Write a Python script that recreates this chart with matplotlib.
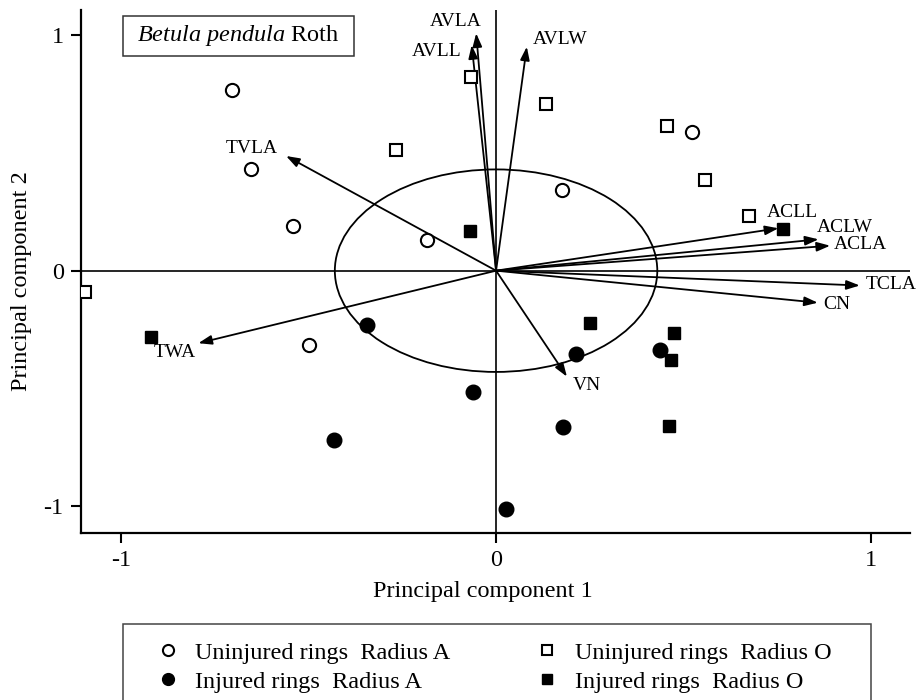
import matplotlib
matplotlib.use("Agg")
import matplotlib.pyplot as plt
from matplotlib.patches import Ellipse, Rectangle
from matplotlib.lines import Line2D

plt.rcParams['font.family'] = ['Liberation Serif', 'DejaVu Serif']
plt.rcParams['axes.unicode_minus'] = False
plt.rcParams['mathtext.fontset'] = 'custom'
plt.rcParams['mathtext.rm'] = 'Liberation Serif'
plt.rcParams['mathtext.it'] = 'Liberation Serif:italic'

# ---------------- data ----------------
unA_x = [-0.704, -0.653, -0.542, -0.184, 0.175, 0.523, -0.500]
unA_y = [0.766, 0.432, 0.190, 0.130, 0.341, 0.588, -0.316]

inA_x = [-0.345, -0.431, -0.062, 0.212, 0.436, 0.179, 0.027]
inA_y = [-0.231, -0.719, -0.514, -0.354, -0.337, -0.665, -1.012]

unO_x = [-1.096, -0.267, -0.068, 0.134, 0.456, 0.556, 0.675]
unO_y = [-0.092, 0.511, 0.822, 0.708, 0.613, 0.385, 0.232]

inO_x = [-0.920, -0.069, 0.764, 0.251, 0.475, 0.466, 0.461]
inO_y = [-0.283, 0.170, 0.178, -0.224, -0.266, -0.379, -0.660]

vec_names = ['AVLA', 'AVLL', 'AVLW', 'TVLA', 'TWA', 'ACLL', 'ACLW', 'ACLA', 'TCLA', 'CN', 'VN']
vec_x = [-0.053, -0.065, 0.082, -0.560, -0.794, 0.753, 0.860, 0.891, 0.970, 0.858, 0.189]
vec_y = [1.008, 0.958, 0.951, 0.487, -0.308, 0.180, 0.133, 0.106, -0.063, -0.136, -0.450]

circle_r = 0.43

x_ticks = [-1, 0, 1]
x_ticklabels = ['-1', '0', '1']
y_ticks = [-1, 0, 1]
y_ticklabels = ['-1', '0', '1']

legend_labels = ['Uninjured rings  Radius A', 'Injured rings  Radius A',
                 'Uninjured rings  Radius O', 'Injured rings  Radius O']

# label offsets (pixels: right, down) relative to arrow tips
lab_off_px = {
    'AVLA': (-20.5, -11.6), 'AVLL': (-35.2, 6.7), 'AVLW': (33.3, -7.4),
    'TVLA': (-34.5, -7.0), 'TWA': (-23.3, 9.4), 'ACLL': (14.2, -15.6),
    'ACLW': (26.7, -11.6), 'ACLA': (30.0, -1.4), 'TCLA': (31.0, -1.0),
    'CN': (18.7, 1.6), 'VN': (20.2, 9.3),
}

# ---------------- figure ----------------
W, H = 918, 700
fig = plt.figure(figsize=(W / 100, H / 100), dpi=100)
ax_l, ax_r, ax_t, ax_b = 81, 910, 10, 533
ax = fig.add_axes([ax_l / W, 1 - ax_b / H, (ax_r - ax_l) / W, (ax_b - ax_t) / H])
ax.set_xlim(-1.107, 1.104)
ax.set_ylim(-1.114, 1.107)

for s in ['top', 'right']:
    ax.spines[s].set_visible(False)
for s in ['left', 'bottom']:
    ax.spines[s].set_linewidth(1.6)

ax.set_xticks(x_ticks)
ax.set_xticklabels(x_ticklabels)
ax.set_yticks(y_ticks)
ax.set_yticklabels(y_ticklabels)
ax.tick_params(axis='both', direction='out', length=7.5, width=1.5, labelsize=17.5)
ax.tick_params(axis='x', pad=4.5)
ax.tick_params(axis='y', pad=5)

ax.axhline(0, color='k', lw=1.2, zorder=1)
ax.axvline(0, color='k', lw=1.2, zorder=1)

ax.add_patch(Ellipse((0, 0), 2 * circle_r, 2 * circle_r, fill=False, ec='k', lw=1.3, zorder=2))

for name, vx, vy in zip(vec_names, vec_x, vec_y):
    ax.annotate('', xy=(vx, vy), xytext=(0, 0),
                arrowprops=dict(arrowstyle='-|>,head_length=0.4,head_width=0.14',
                                mutation_scale=20, lw=1.3, color='k',
                                shrinkA=0, shrinkB=0), zorder=3)
    dx, dy = lab_off_px[name]
    ax.annotate(name, xy=(vx, vy), xytext=(dx / 1.3889, -dy / 1.3889),
                textcoords='offset points', ha='center', va='center',
                fontsize=14, annotation_clip=False, zorder=4)

mk = dict(linestyle='none', color='k', zorder=5)
ax.plot(unA_x, unA_y, marker='o', ms=9.5, mfc='white', mec='k', mew=1.5, **mk)
ax.plot(inA_x, inA_y, marker='o', ms=10.5, mfc='k', mec='k', mew=1.0, **mk)
ax.plot(unO_x, unO_y, marker='s', ms=8.3, mfc='white', mec='k', mew=1.5, **mk)
ax.plot(inO_x, inO_y, marker='s', ms=9, mfc='k', mec='k', mew=1.0, **mk)

# axis labels
ax.set_xlabel('Principal component 1', fontsize=17.5, va='center')
ax.xaxis.set_label_coords((483 - ax_l) / (ax_r - ax_l), -(592 - ax_b) / (ax_b - ax_t))
ax.set_ylabel('Principal component 2', fontsize=17.5, va='center', ha='center')
ax.yaxis.set_label_coords((21.7 - ax_l) / (ax_r - ax_l), (ax_b - 281) / (ax_b - ax_t))

# species box
ax.add_patch(Rectangle(((123 - ax_l) / (ax_r - ax_l), (ax_b - 56) / (ax_b - ax_t)),
                       (354 - 123) / (ax_r - ax_l), (56 - 15.7) / (ax_b - ax_t),
                       transform=ax.transAxes, fill=False, ec='#333333', lw=1.1, zorder=6))
ax.text((238.5 - ax_l) / (ax_r - ax_l), (ax_b - 35.9) / (ax_b - ax_t),
        r'$\mathit{Betula\ pendula}$ Roth', transform=ax.transAxes,
        ha='center', va='center', fontsize=17.5, zorder=7)

# legend
handles = [
    Line2D([], [], marker='o', ls='none', ms=8, mfc='white', mec='k', mew=1.5),
    Line2D([], [], marker='o', ls='none', ms=8.5, mfc='k', mec='k'),
    Line2D([], [], marker='s', ls='none', ms=7.5, mfc='white', mec='k', mew=1.5),
    Line2D([], [], marker='s', ls='none', ms=7.5, mfc='k', mec='k'),
]
fig.legend(handles, legend_labels, ncol=2, loc='upper left',
           bbox_to_anchor=(156 / W, 1 - 641.5 / H), frameon=False,
           fontsize=17.5, borderpad=0, borderaxespad=0, handlelength=1.0,
           handletextpad=0.62, columnspacing=3.48, labelspacing=0.30)
fig.patches.append(Rectangle((123 / W, 1 - 710 / H), (871 - 123) / W, (710 - 624) / H,
                             transform=fig.transFigure, fill=False, ec='#444444', lw=1.1))

fig.savefig('out.png', dpi=100)
